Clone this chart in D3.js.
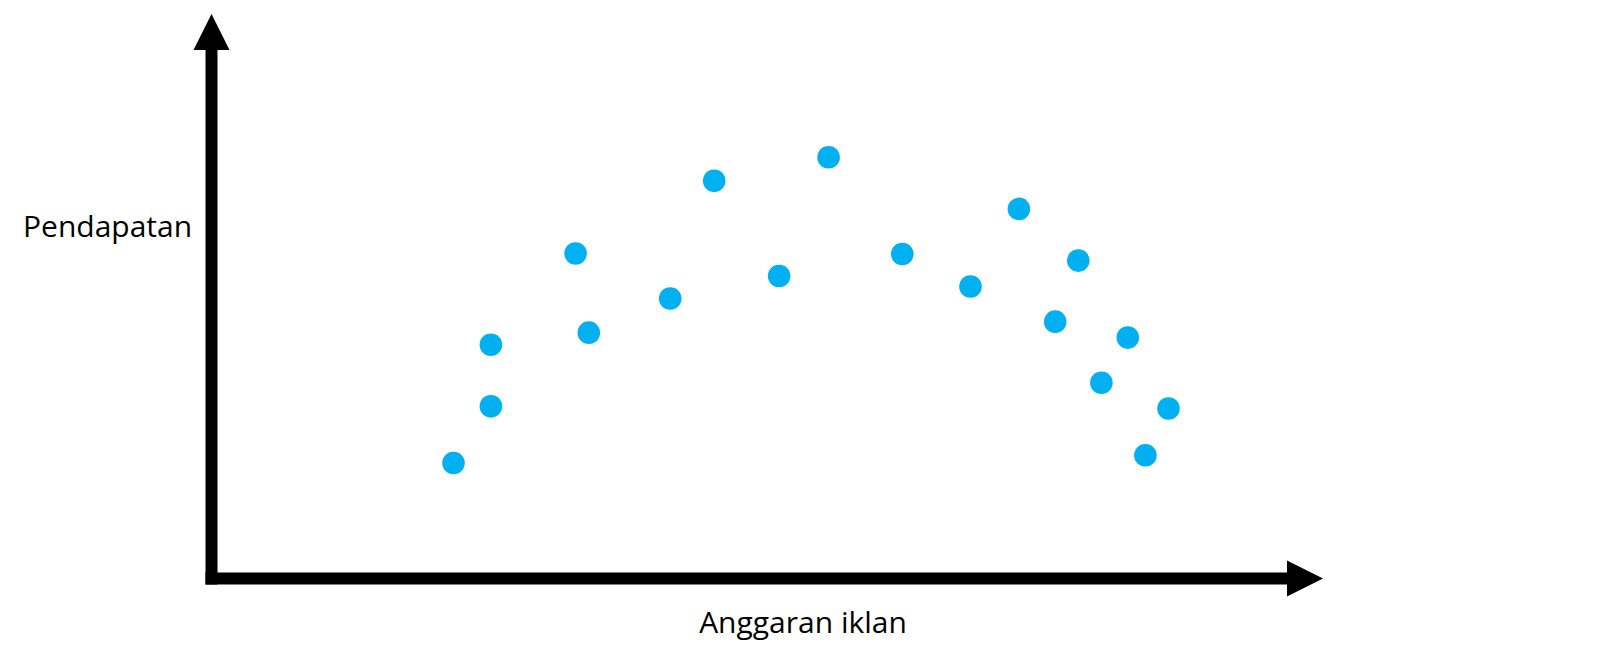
<!DOCTYPE html>
<html>
<head>
<meta charset="utf-8">
<script src="https://cdn.jsdelivr.net/npm/d3@7/dist/d3.min.js"></script>
<style>
  html, body { margin: 0; padding: 0; background: #fff; }
  svg { display: block; }
</style>
</head>
<body>
<svg id="chart" width="1616" height="656"></svg>
<script>
// Data (arbitrary units 0-100)
const budget  = [22.0, 25.4, 25.4, 33.1, 34.3, 41.7, 45.7, 51.6, 56.1, 62.8, 69.0, 73.4, 76.7, 78.8, 80.9, 83.3, 84.9, 87.0];
const revenue = [21.0, 42.5, 31.3, 59.1, 44.7, 50.9, 72.3, 55.0, 76.6, 59.0, 53.1, 67.2, 46.7, 57.8, 35.6, 43.8, 22.4, 30.9];
const xLabel = "Anggaran iklan";
const yLabel = "Pendapatan";

const svg = d3.select("#chart");

const x = d3.scaleLinear().domain([0, 100]).range([211.5, 1311.5]);
const y = d3.scaleLinear().domain([0, 100]).range([578.5, 28.5]);

const axisW = 12;
const headHalf = 18, headLen = 36;
const xEnd = 1323, yEnd = 14;

// Axis lines
svg.append("line")
  .attr("x1", x(0)).attr("y1", y(0) + axisW / 2)
  .attr("x2", x(0)).attr("y2", yEnd + headLen - 1)
  .attr("stroke", "#000").attr("stroke-width", axisW);
svg.append("line")
  .attr("x1", x(0) - axisW / 2).attr("y1", y(0))
  .attr("x2", xEnd - headLen + 1).attr("y2", y(0))
  .attr("stroke", "#000").attr("stroke-width", axisW);

// Arrow heads
svg.append("path")
  .attr("d", `M${x(0)},${yEnd} L${x(0) + headHalf},${yEnd + headLen} L${x(0) - headHalf},${yEnd + headLen} Z`)
  .attr("fill", "#000");
svg.append("path")
  .attr("d", `M${xEnd},${y(0)} L${xEnd - headLen},${y(0) - headHalf} L${xEnd - headLen},${y(0) + headHalf} Z`)
  .attr("fill", "#000");

// Points
svg.append("g").selectAll("circle")
  .data(budget.map((b, i) => ({ b, r: revenue[i] })))
  .join("circle")
  .attr("cx", d => x(d.b))
  .attr("cy", d => y(d.r))
  .attr("r", 11.3)
  .attr("fill", "#00B0F0");

// Labels
svg.append("text")
  .attr("x", 23).attr("y", 237)
  .attr("font-family", "'Open Sans', sans-serif")
  .attr("font-size", 30)
  .attr("fill", "#000")
  .text(yLabel);

svg.append("text")
  .attr("x", 803).attr("y", 633)
  .attr("text-anchor", "middle")
  .attr("font-family", "'Open Sans', sans-serif")
  .attr("font-size", 30)
  .attr("fill", "#000")
  .text(xLabel);
</script>
</body>
</html>
